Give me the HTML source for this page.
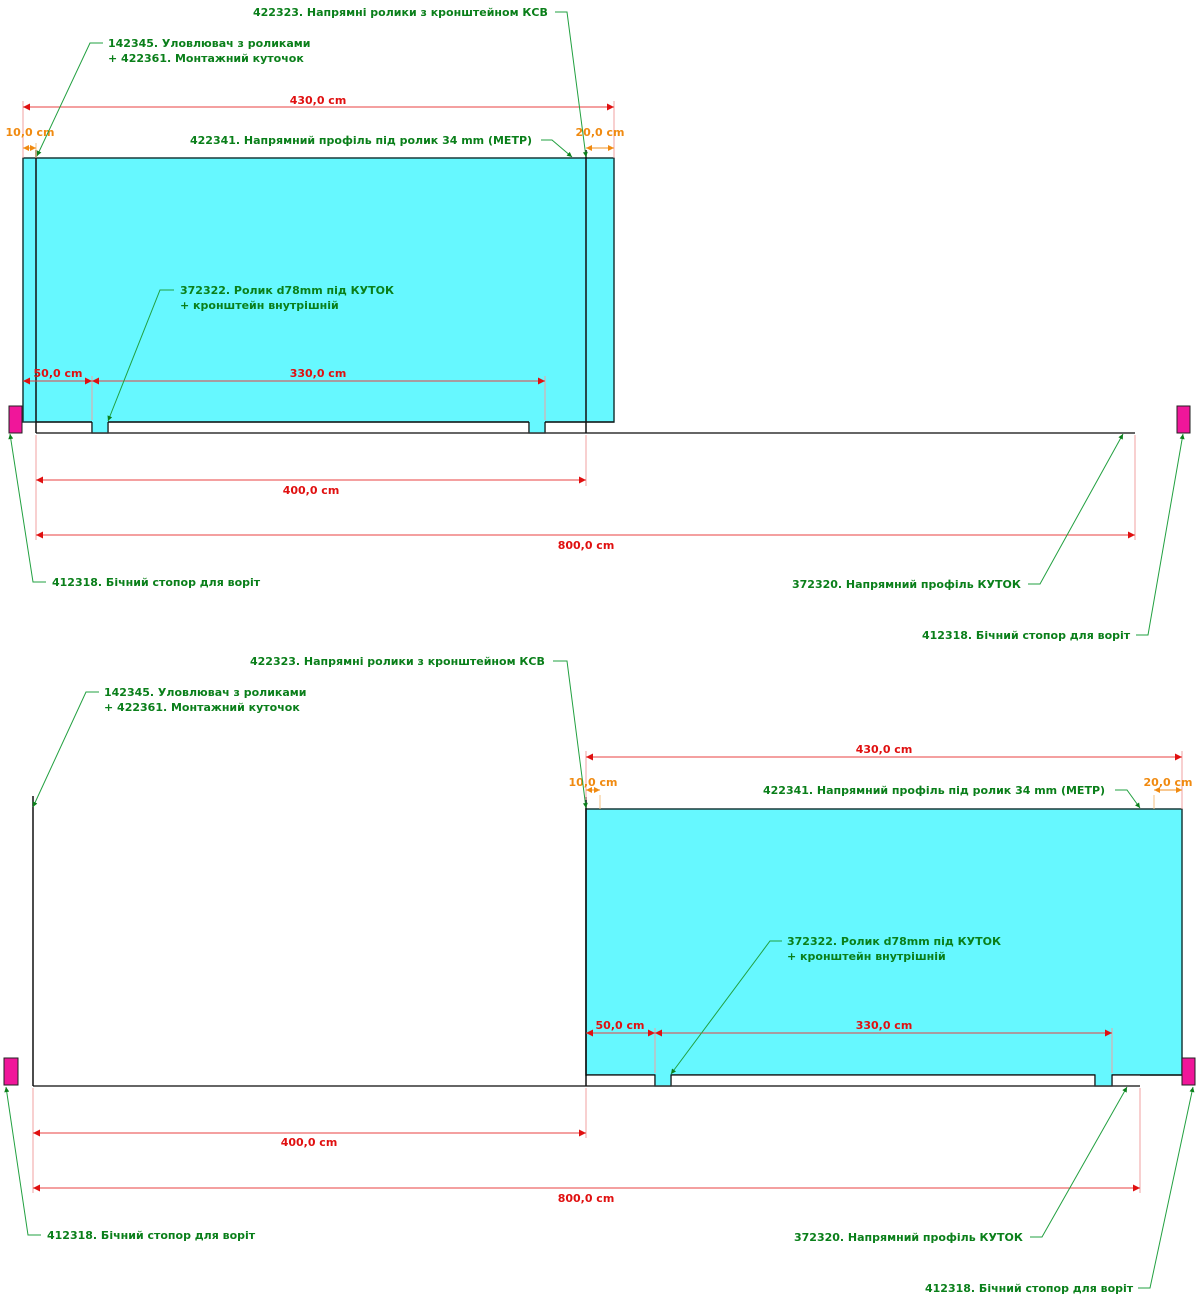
<!DOCTYPE html>
<html><head><meta charset="utf-8"><style>
html,body{margin:0;padding:0;background:#fff;width:1200px;height:1302px;overflow:hidden}
svg{display:block}
.g{fill:#0a7f1a;font-family:"DejaVu Sans","Liberation Sans",sans-serif;font-weight:bold;font-size:11px}
.r{fill:#e01010;font-family:"DejaVu Sans","Liberation Sans",sans-serif;font-weight:bold;font-size:11px}
.o{fill:#f08a10;font-family:"DejaVu Sans","Liberation Sans",sans-serif;font-weight:bold;font-size:11px}
.gl{stroke:#22a040;stroke-width:1;fill:none}
.rl{stroke:#e84040;stroke-width:1;fill:none}
.ext{stroke:#f0a0a0;stroke-width:1;fill:none}
.ol{stroke:#f09020;stroke-width:1;fill:none}
.oe{stroke:#f5c080;stroke-width:1;fill:none}
</style></head><body>
<svg width="1200" height="1302" viewBox="0 0 1200 1302" xmlns="http://www.w3.org/2000/svg">
<defs>
<marker id="ar" viewBox="0 0 10 10" refX="10" refY="5" markerWidth="10" markerHeight="7" orient="auto-start-reverse" markerUnits="userSpaceOnUse"><path d="M0,0 L10,5 L0,10 z" fill="#e01010"/></marker>
<marker id="ao" viewBox="0 0 10 10" refX="10" refY="5" markerWidth="8" markerHeight="6" orient="auto-start-reverse" markerUnits="userSpaceOnUse"><path d="M0,0 L10,5 L0,10 z" fill="#f08a10"/></marker>
<marker id="ag" viewBox="0 0 10 10" refX="10" refY="5" markerWidth="6" markerHeight="5" orient="auto" markerUnits="userSpaceOnUse"><path d="M0,0 L10,5 L0,10 z" fill="#0a7f1a"/></marker>
</defs>

<!-- ===== TOP DIAGRAM ===== -->
<rect x="23" y="158" width="591" height="264" fill="#66f8ff" stroke="#1a3a3a" stroke-width="1.5"/>
<path d="M36,422 H92 V433 H108 V422 H529 V433 H545 V422 H614" fill="none" stroke="#111" stroke-width="1.2"/>
<rect x="92" y="421" width="16" height="12" fill="#66f8ff"/>
<rect x="529" y="421" width="16" height="12" fill="#66f8ff"/>
<path d="M92,422 V433 M108,422 V433 M529,422 V433 M545,422 V433" stroke="#111" stroke-width="1.2"/>
<line x1="36" y1="433" x2="1135" y2="433" stroke="#333" stroke-width="1.5"/>
<line x1="36" y1="150" x2="36" y2="433" stroke="#111" stroke-width="1.5"/>
<line x1="586" y1="150" x2="586" y2="433" stroke="#111" stroke-width="1.5"/>
<rect x="9" y="406" width="13" height="27" fill="#f0169a" stroke="#222"/>
<rect x="1177" y="406" width="13" height="27" fill="#f0169a" stroke="#222"/>

<path class="ext" d="M23,101 V158 M614,101 V158"/>
<line class="rl" x1="23" y1="107" x2="614" y2="107" marker-start="url(#ar)" marker-end="url(#ar)"/>
<text class="r" x="318" y="104" text-anchor="middle">430,0 cm</text>
<path class="oe" d="M36,143 V158"/>
<line class="ol" x1="23" y1="148" x2="36" y2="148" marker-start="url(#ao)" marker-end="url(#ao)"/>
<text class="o" x="30" y="136" text-anchor="middle">10,0 cm</text>
<line class="ol" x1="586" y1="148" x2="614" y2="148" marker-start="url(#ao)" marker-end="url(#ao)"/>
<text class="o" x="600" y="136" text-anchor="middle">20,0 cm</text>

<path class="ext" d="M92,376 V420 M545,376 V420"/>
<line class="rl" x1="23" y1="381" x2="92" y2="381" marker-start="url(#ar)" marker-end="url(#ar)"/>
<text class="r" x="58" y="377" text-anchor="middle">50,0 cm</text>
<line class="rl" x1="92" y1="381" x2="545" y2="381" marker-start="url(#ar)" marker-end="url(#ar)"/>
<text class="r" x="318" y="377" text-anchor="middle">330,0 cm</text>

<path class="ext" d="M36,435 V540 M586,435 V486 M1135,435 V540"/>
<line class="rl" x1="36" y1="480" x2="586" y2="480" marker-start="url(#ar)" marker-end="url(#ar)"/>
<text class="r" x="311" y="494" text-anchor="middle">400,0 cm</text>
<line class="rl" x1="36" y1="535" x2="1135" y2="535" marker-start="url(#ar)" marker-end="url(#ar)"/>
<text class="r" x="586" y="549" text-anchor="middle">800,0 cm</text>

<text class="g" x="108" y="47">142345. Уловлювач з роликами</text>
<text class="g" x="108" y="62">+ 422361. Монтажний куточок</text>
<path class="gl" d="M103,43 H90 L37,156" marker-end="url(#ag)"/>
<text class="g" x="253" y="16">422323. Напрямні ролики з кронштейном КСВ</text>
<path class="gl" d="M555,12 H567 L586,157" marker-end="url(#ag)"/>
<text class="g" x="190" y="144">422341. Напрямний профіль під ролик 34 mm (МЕТР)</text>
<path class="gl" d="M541,140 H552 L572,157" marker-end="url(#ag)"/>
<text class="g" x="180" y="294">372322. Ролик d78mm під КУТОК</text>
<text class="g" x="180" y="309">+ кронштейн внутрішній</text>
<path class="gl" d="M174,290 H160 L108,421" marker-end="url(#ag)"/>
<text class="g" x="52" y="586">412318. Бічний стопор для воріт</text>
<path class="gl" d="M46,582 H33 L10,434" marker-end="url(#ag)"/>
<text class="g" x="792" y="588">372320. Напрямний профіль КУТОК</text>
<path class="gl" d="M1028,584 H1040 L1123,434" marker-end="url(#ag)"/>
<text class="g" x="922" y="639">412318. Бічний стопор для воріт</text>
<path class="gl" d="M1136,635 H1148 L1183,434" marker-end="url(#ag)"/>

<!-- ===== BOTTOM DIAGRAM ===== -->
<rect x="586" y="809" width="596" height="266" fill="#66f8ff" stroke="#1a3a3a" stroke-width="1.5"/>
<rect x="587" y="1075.5" width="553" height="11" fill="#fff"/>
<path d="M586,1075 H655 V1086 H671 V1075 H1095 V1086 H1112 V1075 H1182" fill="none" stroke="#111" stroke-width="1.2"/>
<rect x="655.5" y="1074" width="15" height="12" fill="#66f8ff"/>
<rect x="1095.5" y="1074" width="16" height="12" fill="#66f8ff"/>
<path d="M655,1075 V1086 M671,1075 V1086 M1095,1075 V1086 M1112,1075 V1086" stroke="#111" stroke-width="1.2"/>
<rect x="1141" y="1076" width="40" height="11" fill="#fff"/>
<line x1="33" y1="1086" x2="1140" y2="1086" stroke="#333" stroke-width="1.5"/>
<line x1="33" y1="796" x2="33" y2="1086" stroke="#111" stroke-width="1.5"/>
<line x1="586" y1="797" x2="586" y2="1086" stroke="#111" stroke-width="1.5"/>
<rect x="4" y="1058" width="14" height="27" fill="#f0169a" stroke="#222"/>
<rect x="1182" y="1058" width="13" height="27" fill="#f0169a" stroke="#222"/>

<path class="ext" d="M586,751 V800 M1182,751 V809"/>
<line class="rl" x1="586" y1="757" x2="1182" y2="757" marker-start="url(#ar)" marker-end="url(#ar)"/>
<text class="r" x="884" y="753" text-anchor="middle">430,0 cm</text>
<path class="oe" d="M600,795 V809 M1154,795 V809"/>
<line class="ol" x1="586" y1="790" x2="600" y2="790" marker-start="url(#ao)" marker-end="url(#ao)"/>
<text class="o" x="593" y="786" text-anchor="middle">10,0 cm</text>
<line class="ol" x1="1154" y1="790" x2="1182" y2="790" marker-start="url(#ao)" marker-end="url(#ao)"/>
<text class="o" x="1168" y="786" text-anchor="middle">20,0 cm</text>

<path class="ext" d="M655,1028 V1073 M1112,1028 V1073"/>
<line class="rl" x1="586" y1="1033" x2="655" y2="1033" marker-start="url(#ar)" marker-end="url(#ar)"/>
<text class="r" x="620" y="1029" text-anchor="middle">50,0 cm</text>
<line class="rl" x1="655" y1="1033" x2="1112" y2="1033" marker-start="url(#ar)" marker-end="url(#ar)"/>
<text class="r" x="884" y="1029" text-anchor="middle">330,0 cm</text>

<path class="ext" d="M33,1088 V1193 M586,1088 V1138 M1140,1088 V1193"/>
<line class="rl" x1="33" y1="1133" x2="586" y2="1133" marker-start="url(#ar)" marker-end="url(#ar)"/>
<text class="r" x="309" y="1146" text-anchor="middle">400,0 cm</text>
<line class="rl" x1="33" y1="1188" x2="1140" y2="1188" marker-start="url(#ar)" marker-end="url(#ar)"/>
<text class="r" x="586" y="1202" text-anchor="middle">800,0 cm</text>

<text class="g" x="250" y="665">422323. Напрямні ролики з кронштейном КСВ</text>
<path class="gl" d="M553,661 H567 L586,808" marker-end="url(#ag)"/>
<text class="g" x="104" y="696">142345. Уловлювач з роликами</text>
<text class="g" x="104" y="711">+ 422361. Монтажний куточок</text>
<path class="gl" d="M99,692 H86 L33,807" marker-end="url(#ag)"/>
<text class="g" x="763" y="794">422341. Напрямний профіль під ролик 34 mm (МЕТР)</text>
<path class="gl" d="M1115,790 H1127 L1140,808" marker-end="url(#ag)"/>
<text class="g" x="787" y="945">372322. Ролик d78mm під КУТОК</text>
<text class="g" x="787" y="960">+ кронштейн внутрішній</text>
<path class="gl" d="M782,941 H770 L671,1074" marker-end="url(#ag)"/>
<text class="g" x="47" y="1239">412318. Бічний стопор для воріт</text>
<path class="gl" d="M41,1235 H28 L6,1087" marker-end="url(#ag)"/>
<text class="g" x="794" y="1241">372320. Напрямний профіль КУТОК</text>
<path class="gl" d="M1030,1237 H1042 L1127,1087" marker-end="url(#ag)"/>
<text class="g" x="925" y="1292">412318. Бічний стопор для воріт</text>
<path class="gl" d="M1138,1288 H1150 L1193,1087" marker-end="url(#ag)"/>
</svg>
</body></html>
